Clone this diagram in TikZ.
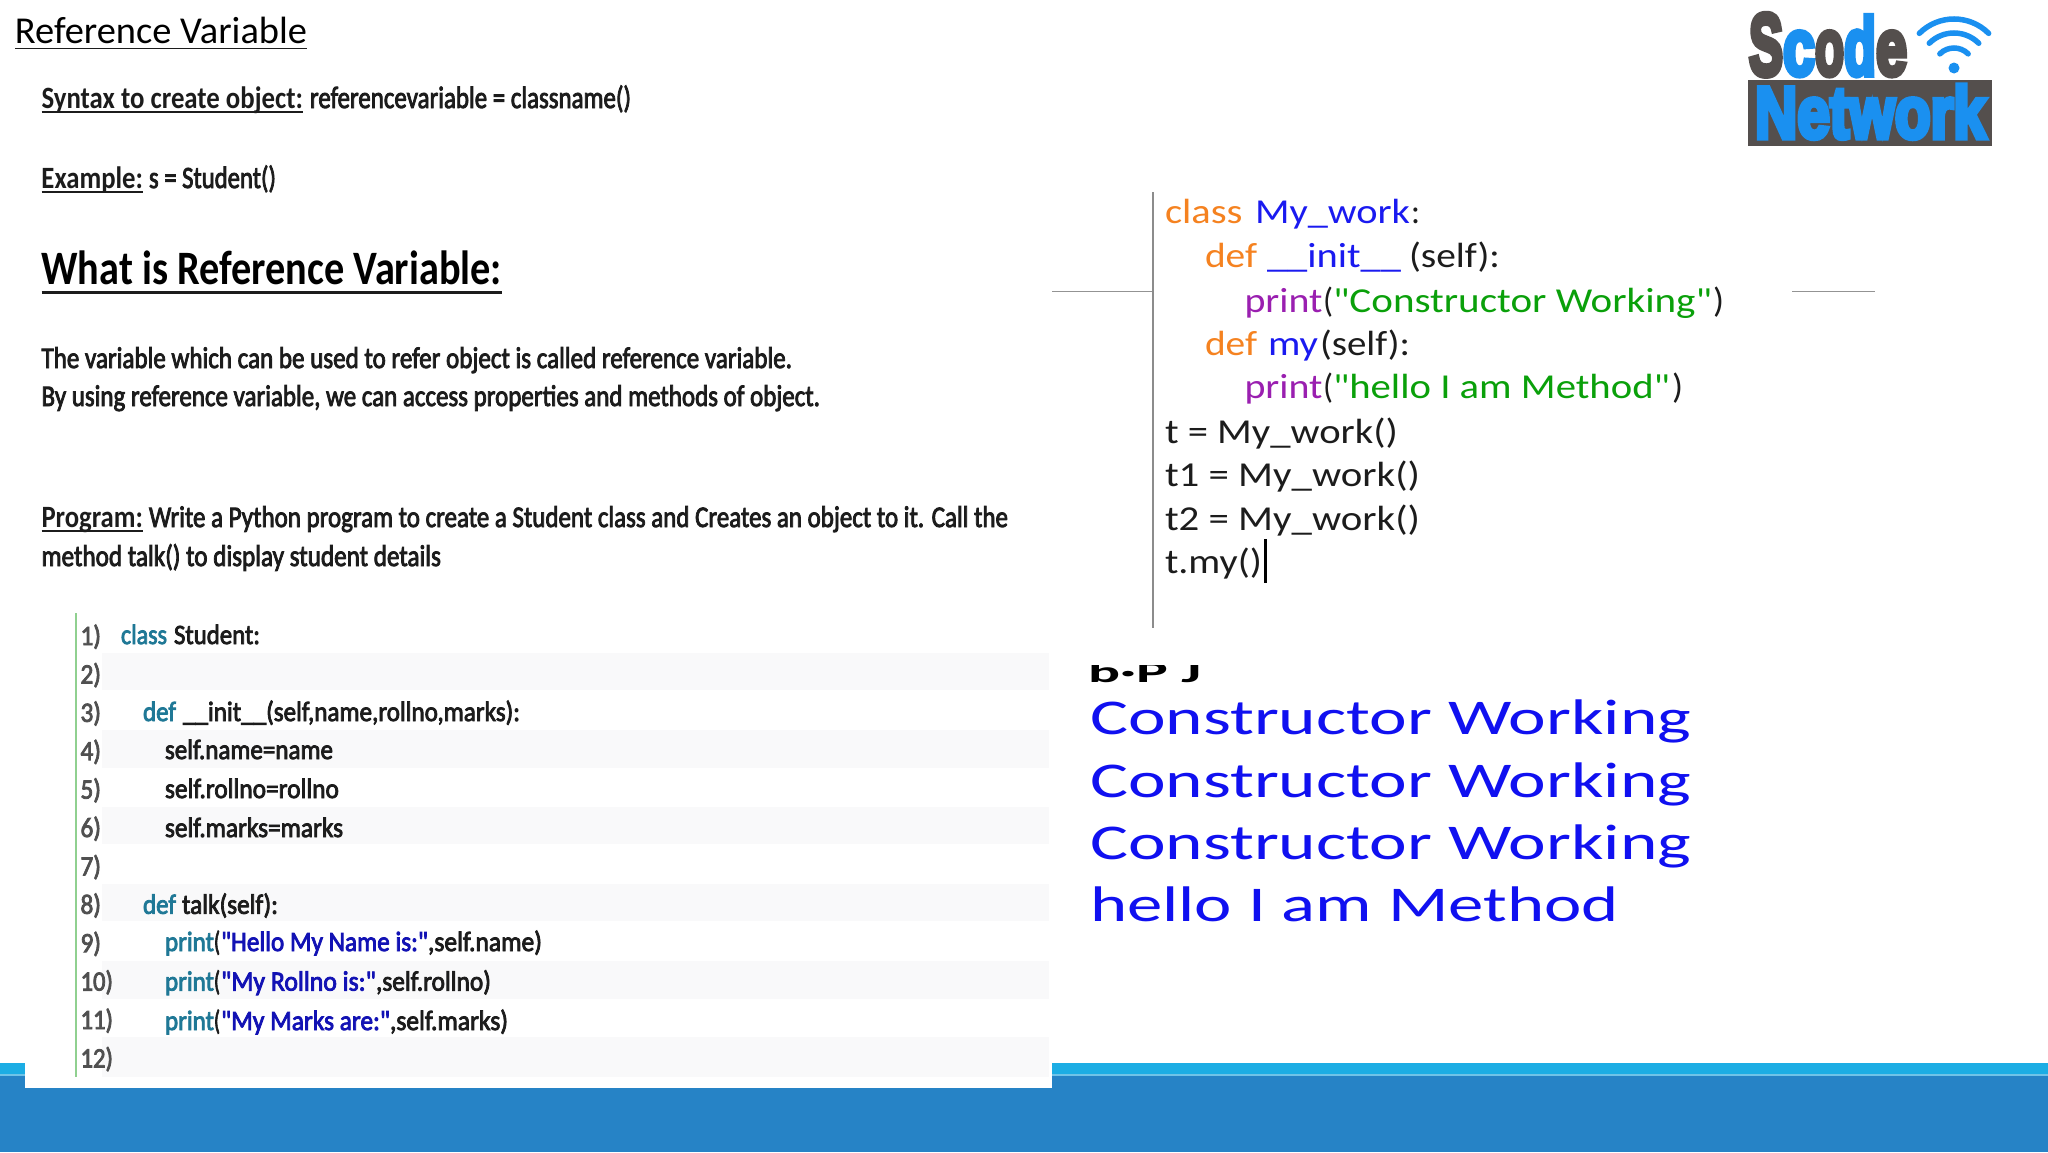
\documentclass[tikz,border=0pt]{standalone}
\usepackage{fontspec}
\usepackage{graphicx}
\usetikzlibrary{calc}
\setmainfont{Carlito}
\newfontfamily\semifont[FakeBold=3]{Carlito}
\newfontfamily\codefont{Carlito}
\newfontfamily\logofont[FakeBold=7]{Liberation Sans Bold}
\definecolor{ink}{HTML}{1C1C1C}
\definecolor{numgray}{HTML}{505050}
\definecolor{teal1}{HTML}{1F7896}
\definecolor{navy1}{HTML}{1212B4}
\definecolor{orange1}{HTML}{F58220}
\definecolor{blue1}{HTML}{1A1AF0}
\definecolor{purple1}{HTML}{9A1FB0}
\definecolor{green1}{HTML}{0AA00A}
\definecolor{outblue}{HTML}{1010F0}
\definecolor{bandcyan}{HTML}{1CADE4}
\definecolor{banddark}{HTML}{2683C6}
\definecolor{bandline}{HTML}{6FC3E8}
\definecolor{logodark}{HTML}{544F4D}
\definecolor{logoblue}{HTML}{1A90F0}
\definecolor{stripe}{HTML}{F9F9FA}
\definecolor{listgreen}{HTML}{90D090}
\tikzset{
  txt/.style={anchor=base west,inner sep=0pt,outer sep=0pt},
  uline/.style={line width=#1,draw=ink},
  guide/.style={draw=gray!85,line width=1pt},
  wifi/.style={draw=logoblue,line width=5.5pt,line cap=round},
  logotxt/.style={txt,font=\logofont\fontsize{40pt}{40pt}\selectfont}
}
% name, x, baseline y, width, font size, colour, text
\newcommand{\T}[7]{\node[txt,text=#6,font=\fontsize{#5pt}{#5pt}\selectfont] (#1) at (#2,#3) {\resizebox{#4pt}{\height}{#7}};}
\newcommand{\UL}[3]{\draw[uline=#3] ($(#1.base west)+(0,#2)$) -- ($(#1.base east)+(0,#2)$);}
\begin{document}
\begin{tikzpicture}[x=1pt,y=-1pt]
\useasboundingbox (0,0) rectangle (2048,1152);
\fill[white] (0,0) rectangle (2048,1152);
% bottom band
\fill[bandcyan] (0,1063) rectangle (2048,1075);
\fill[bandline] (0,1073.5) rectangle (2048,1075.5);
\fill[banddark] (0,1075.5) rectangle (2048,1152);
\fill[white] (25,1040) rectangle (1051.5,1088);
% title and text
\T{title}{15}{43}{292}{38}{black}{Reference Variable}
\UL{title}{5.5}{1.8}
\T{syn}{41.5}{108}{261.5}{31}{ink}{\bfseries Syntax to create object:}
\UL{syn}{4}{2.2}
\T{synb}{310}{108}{321}{31}{ink}{\semifont referencevariable = classname()}
\T{ex}{41.5}{188}{101.5}{31}{ink}{\bfseries Example:}
\UL{ex}{4}{2.2}
\T{exb}{149}{188}{127}{31}{ink}{\semifont s = Student()}
\T{what}{41.5}{284}{460.5}{48}{black}{\bfseries What is Reference Variable:}
\UL{what}{8}{3}
\T{pa}{41.5}{368}{750.5}{30}{ink}{\semifont The variable which can be used to refer object is called reference variable.}
\T{pb}{41.5}{406}{778.5}{30}{ink}{\semifont By using reference variable, we can access properties and methods of object.}
\T{prog}{41.5}{527}{101.5}{31}{ink}{\bfseries Program:}
\UL{prog}{4}{2.2}
\T{progb}{149}{527}{859}{30}{ink}{\semifont Write a Python program to create a Student class and Creates an object to it. Call the}
\T{progc}{41.5}{566}{399.5}{30}{ink}{\semifont method talk() to display student details}
% left code listing
\foreach \yy/\hh in {653/37,730/38,807/37,884/37,961/38,1037/40}
  \fill[stripe] (102,\yy) rectangle (1049,\yy+\hh);
\draw[draw=listgreen,line width=2pt] (76,613) -- (76,1077);
\T{n1}{80.5}{645}{20.5}{28}{numgray}{\semifont 1)}
\T{n2}{80.5}{683.4}{20.5}{28}{numgray}{\semifont 2)}
\T{n3}{80.5}{721.8}{20.5}{28}{numgray}{\semifont 3)}
\T{n4}{80.5}{760.2}{20.5}{28}{numgray}{\semifont 4)}
\T{n5}{80.5}{798.6}{20.5}{28}{numgray}{\semifont 5)}
\T{n6}{80.5}{837}{20.5}{28}{numgray}{\semifont 6)}
\T{n7}{80.5}{875.4}{20.5}{28}{numgray}{\semifont 7)}
\T{n8}{80.5}{913.8}{20.5}{28}{numgray}{\semifont 8)}
\T{n9}{80.5}{952.2}{20.5}{28}{numgray}{\semifont 9)}
\T{n10}{80.5}{990.6}{32.5}{28}{numgray}{\semifont 10)}
\T{n11}{80.5}{1029}{32.5}{28}{numgray}{\semifont 11)}
\T{n12}{80.5}{1067.4}{32.5}{28}{numgray}{\semifont 12)}
\T{c1a}{121}{644}{46}{28}{teal1}{\semifont class}
\T{c1b}{174}{644}{86}{28}{ink}{\semifont Student:}
\T{c3a}{143}{721}{33}{28}{teal1}{\semifont def}
\T{c3b}{183}{721}{337}{28}{ink}{\semifont \_\_init\_\_(self,name,rollno,marks):}
\T{c4}{165}{759}{168}{28}{ink}{\semifont self.name=name}
\T{c5}{165}{798}{174}{28}{ink}{\semifont self.rollno=rollno}
\T{c6}{165}{837}{178}{28}{ink}{\semifont self.marks=marks}
\T{c8a}{143}{913.8}{33}{28}{teal1}{\semifont def}
\T{c8b}{182}{913.8}{96}{28}{ink}{\semifont talk(self):}
\T{c9a}{165}{951}{49}{28}{teal1}{\semifont print}
\T{c9p}{214}{951}{6}{28}{ink}{\semifont (}
\T{c9b}{221}{951}{207}{28}{navy1}{\semifont "Hello My Name is:"}
\T{c9c}{428}{951}{114}{28}{ink}{\semifont ,self.name)}
\T{c10a}{165}{990.6}{49}{28}{teal1}{\semifont print}
\T{c10p}{214}{990.6}{6}{28}{ink}{\semifont (}
\T{c10b}{221}{990.6}{155}{28}{navy1}{\semifont "My Rollno is:"}
\T{c10c}{376}{990.6}{115}{28}{ink}{\semifont ,self.rollno)}
\T{c11a}{165}{1030}{49}{28}{teal1}{\semifont print}
\T{c11p}{214}{1030}{6}{28}{ink}{\semifont (}
\T{c11b}{221}{1030}{169}{28}{navy1}{\semifont "My Marks are:"}
\T{c11c}{390}{1030}{118}{28}{ink}{\semifont ,self.marks)}
% right code
\coordinate (vt) at (1153,192);
\coordinate (vb) at (1153,628);
\coordinate (hl) at (1052,291.5);
\coordinate (hm) at (1153,291.5);
\coordinate (hr1) at (1792,291.5);
\coordinate (hr2) at (1875,291.5);
\draw[guide] (hl) -- (hm);
\draw[guide] (hr1) -- (hr2);
\draw[draw=gray!90,line width=2.5pt] (vt) -- (vb);
\T{r1a}{1165}{223.6}{77.5}{35}{orange1}{\codefont class}
\T{r1b}{1255}{223.6}{155}{35}{blue1}{\codefont My\_work}
\T{r1c}{1411}{223.6}{9}{35}{ink}{\codefont :}
\T{r2a}{1205}{267}{52}{35}{orange1}{\codefont def}
\T{r2b}{1267}{267}{134}{35}{blue1}{\codefont \_\_init\_\_}
\T{r2c}{1409}{267}{91}{35}{ink}{\codefont (self):}
\T{r3a}{1244.5}{312}{78}{35}{purple1}{\codefont print}
\T{r3p}{1323}{312}{10}{35}{ink}{\codefont (}
\T{r3b}{1333}{312}{379}{35}{green1}{\codefont "Constructor Working"}
\T{r3c}{1713}{312}{11}{35}{ink}{\codefont )}
\T{r4a}{1205}{355}{52}{35}{orange1}{\codefont def}
\T{r4b}{1268}{355}{50}{35}{blue1}{\codefont my}
\T{r4c}{1320}{355}{90}{35}{ink}{\codefont (self):}
\T{r5a}{1244.5}{398}{78}{35}{purple1}{\codefont print}
\T{r5p}{1323}{398}{10}{35}{ink}{\codefont (}
\T{r5b}{1333}{398}{337}{35}{green1}{\codefont "hello I am Method"}
\T{r5c}{1672}{398}{11}{35}{ink}{\codefont )}
\T{r6}{1165}{443}{233}{35}{ink}{\codefont t = My\_work()}
\T{r7}{1165}{486}{255}{35}{ink}{\codefont t1 = My\_work()}
\T{r8}{1165}{530}{255}{35}{ink}{\codefont t2 = My\_work()}
\T{r9}{1165}{573}{97}{35}{ink}{\codefont t.my()}
\coordinate (curt) at (1265,539);
\coordinate (curb) at (1265,583);
\draw[black,line width=3pt] (curt) -- (curb);
% output
\begin{scope}
\clip (1080,665) rectangle (1210,690);
\T{o0}{1088}{682}{113}{30}{black}{\bfseries b·P J}
\end{scope}
\T{o1}{1090}{734.5}{601}{50}{outblue}{Constructor Working}
\T{o2}{1090}{797}{601}{50}{outblue}{Constructor Working}
\T{o3}{1090}{859}{601}{50}{outblue}{Constructor Working}
\T{o4}{1090}{921}{529}{50}{outblue}{hello I am Method}
% logo
\fill[logodark] (1748,80) rectangle (1992,146);
\node[logotxt,text=logoblue] (net) at (1755,138) {\resizebox{231pt}{53pt}{Network}};
\node[logotxt,text=logodark] (ls) at (1749,75) {\resizebox*{34pt}{62pt}{S}};
\node[logotxt,text=logoblue] (lc) at (1783,75) {\resizebox*{32pt}{44pt}{c}};
\node[logotxt,text=logodark] (lo) at (1815,75) {\resizebox*{29pt}{44pt}{o}};
\node[logotxt,text=logoblue] (ld) at (1844,75) {\resizebox*{32pt}{60pt}{d}};
\node[logotxt,text=logodark] (le) at (1876,75) {\resizebox*{31pt}{44pt}{e}};
\fill[logoblue] (1954,68) circle (5.5);
\foreach \wr in {20,35,49}
  \draw[wifi] ({1954-.707*\wr},{68-.707*\wr}) .. controls ({1954-.316*\wr},{68-1.098*\wr}) and ({1954+.316*\wr},{68-1.098*\wr}) .. ({1954+.707*\wr},{68-.707*\wr});
\end{tikzpicture}
\end{document}
